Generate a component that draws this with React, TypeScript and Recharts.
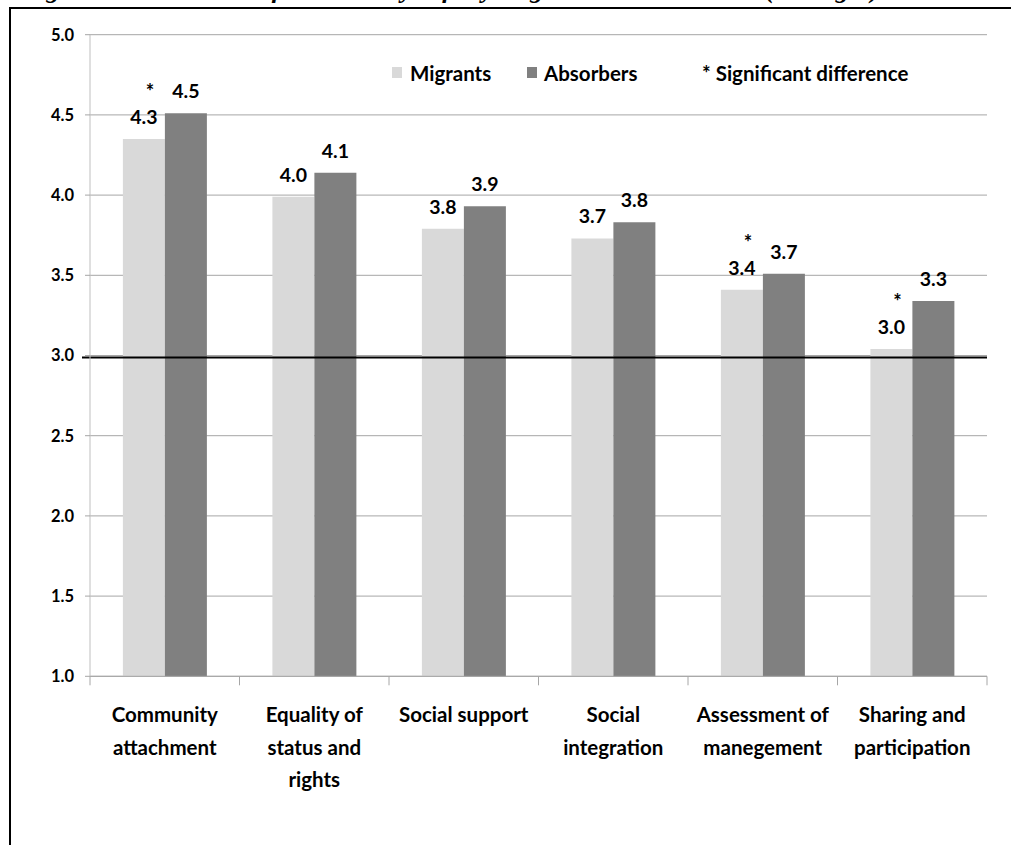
import React from "react";
import { Bar, BarChart, CartesianGrid, LabelList, Legend, ReferenceLine, XAxis, YAxis } from "recharts";

const categories = [
  "Community attachment",
  "Equality of status and rights",
  "Social support",
  "Social integration",
  "Assessment of manegement",
  "Sharing and participation",
];
const categoryLines = [
  ["Community", "attachment"],
  ["Equality of", "status and", "rights"],
  ["Social support"],
  ["Social", "integration"],
  ["Assessment of", "manegement"],
  ["Sharing and", "participation"],
];
const seriesNames = ["Migrants", "Absorbers"];
const migrants = [4.35, 3.99, 3.79, 3.73, 3.41, 3.04];
const absorbers = [4.51, 4.14, 3.93, 3.83, 3.51, 3.34];
const migrantLabels = ["4.3", "4.0", "3.8", "3.7", "3.4", "3.0"];
const absorberLabels = ["4.5", "4.1", "3.9", "3.8", "3.7", "3.3"];
const significant = [true, false, false, false, true, true];
const yTicks = [1, 1.5, 2, 2.5, 3, 3.5, 4, 4.5, 5];

const data = categories.map((name, i) => ({
  name,
  migrants: migrants[i],
  absorbers: absorbers[i],
}));

const FONT = "Lato, 'Open Sans', sans-serif";

function CategoryTick(props: any) {
  const { x, y, payload, index } = props;
  const i = payload?.index ?? index;
  const half = payload?.offset ?? 0;
  const lines = categoryLines[i] || [];
  return (
    <g>
      <line x1={x - half} x2={x - half} y1={y} y2={y + 9} stroke="#a6a6a6" />
      {i === categories.length - 1 && <line x1={x + half} x2={x + half} y1={y} y2={y + 9} stroke="#a6a6a6" />}
      {lines.map((t, k) => (
        <text
          key={k}
          x={x}
          y={y + 46 + k * 32.5}
          textAnchor="middle"
          fontFamily={FONT}
          fontWeight="bold"
          fontSize={20.5}
          fill="#000"
        >
          {t}
        </text>
      ))}
    </g>
  );
}

function valueLabel(labels: string[], withStar: boolean) {
  return (props: any) => {
    const { x, y, width, index } = props;
    const cx = x + width / 2;
    const base = y - 15;
    return (
      <g>
        <text x={cx} y={base} textAnchor="middle" fontFamily={FONT} fontWeight="bold" fontSize={19.5} fill="#000">
          {labels[index]}
        </text>
        {withStar && significant[index] && (
          <text x={cx + 6} y={base - 25} textAnchor="middle" fontFamily={FONT} fontWeight="bold" fontSize={20} fill="#000">
            *
          </text>
        )}
      </g>
    );
  };
}

function LegendContent(props: any) {
  const items = [...(props.payload || [])].sort(
    (a: any, b: any) => seriesNames.indexOf(a.value) - seriesNames.indexOf(b.value)
  );
  const squareLeft = [0, 135];
  const textLeft = [18, 152];
  return (
    <div style={{ position: "relative", height: 24, fontFamily: FONT, fontWeight: "bold", fontSize: 20.5, lineHeight: "20px" }}>
      {items.map((it: any, k: number) => (
        <React.Fragment key={k}>
          <div style={{ position: "absolute", left: squareLeft[k], top: 4, width: 10, height: 11, background: it.color }} />
          <div style={{ position: "absolute", left: textLeft[k], top: 0, whiteSpace: "nowrap" }}>{it.value}</div>
        </React.Fragment>
      ))}
      <div style={{ position: "absolute", left: 310, top: 0, whiteSpace: "nowrap" }}>* Significant difference</div>
    </div>
  );
}

function BlackLine(props: any) {
  const { x1, x2, y1 } = props;
  return <line x1={x1 - 8} x2={x2} y1={y1 + 2} y2={y1 + 2} stroke="#000" strokeWidth={2} />;
}

export default function App() {
  return (
    <div style={{ position: "absolute", left: 0, top: 0, width: 1011, height: 845, background: "#fff", overflow: "hidden" }}>
      <div
        style={{
          position: "absolute",
          left: 22,
          top: -23,
          whiteSpace: "nowrap",
          fontFamily: "'Liberation Serif', serif",
          fontWeight: "bold",
          fontStyle: "italic",
          fontSize: 26,
          lineHeight: "26px",
        }}
      >
        Figure 3: Assessment of Community Life by Migrants and Absorbers (Averages)
      </div>
      <div
        style={{
          position: "absolute",
          left: 9,
          top: 7,
          width: 1020,
          height: 850,
          borderLeft: "2px solid #000",
          borderTop: "2px solid #000",
          background: "#fff",
        }}
      />
      <div style={{ position: "absolute", left: 0, top: 0 }}>
        <BarChart
          width={1011}
          height={845}
          data={data}
          margin={{ top: 34.7, right: 24, bottom: 68.7, left: 0 }}
          barCategoryGap="22%"
          barGap={0}
        >
          <CartesianGrid vertical={false} stroke="#a6a6a6" />
          <XAxis
            dataKey="name"
            height={100}
            interval={0}
            tickLine={false}
            tickSize={0}
            tickMargin={0}
            axisLine={{ stroke: "#a6a6a6" }}
            tick={<CategoryTick />}
          />
          <YAxis
            width={90}
            domain={[1, 5]}
            ticks={yTicks}
            interval={0}
            tickFormatter={(v: number) => v.toFixed(1)}
            tickSize={5}
            tickMargin={11}
            tickLine={{ stroke: "#a6a6a6" }}
            axisLine={{ stroke: "#bfbfbf" }}
            tick={{ fill: "#000", fontFamily: FONT, fontWeight: "bold", fontSize: 16.5 }}
          />
          <Legend
            layout="horizontal"
            verticalAlign="middle"
            align="center"
            wrapperStyle={{ top: 63, left: 392, width: 600 }}
            content={<LegendContent />}
          />
          <ReferenceLine y={3} shape={<BlackLine />} />
          <Bar dataKey="migrants" name="Migrants" fill="#d9d9d9" isAnimationActive={false}>
            <LabelList dataKey="migrants" content={valueLabel(migrantLabels, true)} />
          </Bar>
          <Bar dataKey="absorbers" name="Absorbers" fill="#808080" isAnimationActive={false}>
            <LabelList dataKey="absorbers" content={valueLabel(absorberLabels, false)} />
          </Bar>
        </BarChart>
      </div>
    </div>
  );
}
